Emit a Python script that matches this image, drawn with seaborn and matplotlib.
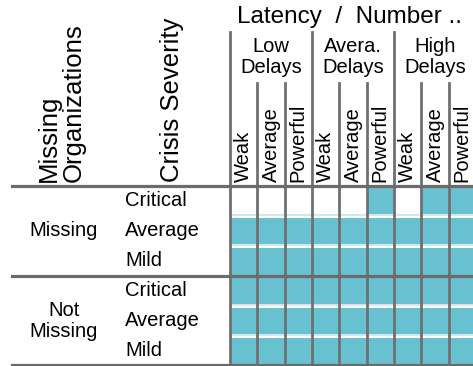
import numpy as np
import pandas as pd
import matplotlib
matplotlib.use('Agg')
import matplotlib.pyplot as plt
import seaborn as sns
from matplotlib.colors import ListedColormap

# Table layout: columns = latency group x number, rows = missing org x severity
latency_groups = ['Low\nDelays', 'Avera.\nDelays', 'High\nDelays']
numbers = ['Weak', 'Average', 'Powerful']
missing_groups = ['Missing', 'Not\nMissing']
severities = ['Critical', 'Average', 'Mild']

# 1 = highlighted cell, 0 = empty cell (one list per row, top to bottom)
missing_critical = [0, 0, 0, 0, 0, 1, 0, 1, 1]
missing_average = [1, 1, 1, 1, 1, 1, 1, 1, 1]
missing_mild = [1, 1, 1, 1, 1, 1, 1, 1, 1]
notmissing_critical = [1, 1, 1, 1, 1, 1, 1, 1, 1]
notmissing_average = [1, 1, 1, 1, 1, 1, 1, 1, 1]
notmissing_mild = [1, 1, 1, 1, 1, 1, 1, 1, 1]

rows = [missing_critical, missing_average, missing_mild,
        notmissing_critical, notmissing_average, notmissing_mild]
col_index = pd.MultiIndex.from_product([latency_groups, numbers])
row_index = pd.MultiIndex.from_product([missing_groups, severities])
table = pd.DataFrame(rows, index=row_index, columns=col_index)

W, H = 473, 366
fig = plt.figure(figsize=(W / 100, H / 100), dpi=100)
plt.rcParams['font.family'] = ['Liberation Sans', 'DejaVu Sans']

# grid area in pixels: x 230..476, y 186..366
gx0, gw = 230, 246
gy0, gh = 186, 180
ax = fig.add_axes([gx0 / W, (H - gy0 - gh) / H, gw / W, gh / H])

teal = '#68c1d0'
sns.heatmap(table.values, cmap=ListedColormap(['white', teal]), vmin=0, vmax=1,
            cbar=False, ax=ax, xticklabels=False, yticklabels=False, linewidths=0)
ax.set_xticks([])
ax.set_yticks([])

ncol = table.shape[1]
nrow = table.shape[0]
px_y = nrow / gh  # data units per pixel (y)

def ax_y(py):
    # figure pixel y (from top) -> axes fraction
    return (gy0 + gh - py) / gh

def ax_x(px):
    return (px - gx0) / gw

# light separators between severity rows
for k in range(1, nrow):
    if k % len(severities) == 0:
        continue
    ax.axhline(k - px_y, color='#d3e6eb', lw=1.5)
    ax.axhline(k + px_y, color='white', lw=1.5)

line_col = '#707070'
# vertical column lines, group lines go higher
for j in range(ncol + 1):
    top = ax_y(32) if j % len(numbers) == 0 else ax_y(83)
    ax.axvline(j, ymin=0, ymax=top, color=line_col, lw=2.0, clip_on=False)

# horizontal heavy lines
for k in [0, 3, 6]:
    yk = k if k < nrow else k - 1.5 * px_y
    ax.axhline(yk, xmin=ax_x(12), xmax=1, color='#6b6b6b', lw=2.3, clip_on=False)

trans = ax.get_xaxis_transform()

# column header texts
for j in range(ncol):
    ax.text(j + 0.5, ax_y(182), table.columns[j][1], rotation=90, ha='center',
            va='bottom', fontsize=14.5, transform=trans)
for g, name in enumerate(latency_groups):
    ax.text(g * 3 + 1.5, ax_y(57), name, ha='center', va='center',
            multialignment='center', fontsize=14.5, linespacing=1.15, transform=trans)
ax.text(0.26, ax_y(17), 'Latency  /  Number ..', ha='left', va='center',
        fontsize=17.5, transform=trans)

# row header texts
ytrans = ax.get_yaxis_transform()
for i in range(nrow):
    ax.text(ax_x(125), i + 0.5, table.index[i][1], ha='left', va='center',
            fontsize=14.5, transform=ytrans)
for g, name in enumerate(missing_groups):
    ax.text(ax_x(64), g * 3 + 1.5, name, ha='center', va='center',
            multialignment='center', fontsize=14.5, linespacing=1.1, transform=ytrans)

ax.text(ax_x(61), ax_y(182), 'Missing\nOrganizations', rotation=90, ha='center',
        va='bottom', multialignment='left', fontsize=18.5, linespacing=1.05,
        transform=ax.transAxes)
ax.text(ax_x(172), ax_y(182), 'Crisis Severity', rotation=90, ha='center',
        va='bottom', fontsize=18.5, transform=ax.transAxes)

fig.savefig('out.png', dpi=100)
